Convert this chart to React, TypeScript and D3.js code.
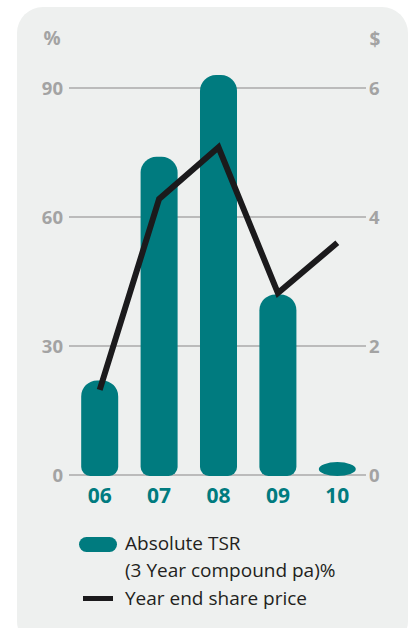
import React from "react";
import * as d3 from "d3";

const categories = ["06", "07", "08", "09", "10"];
const tsrValues = [22, 74, 93, 42, 3];
const sharePrice = [1.32, 4.28, 5.08, 2.82, 3.6];
const leftTicks = [0, 30, 60, 90];
const rightTicks = [0, 2, 4, 6];

const TEAL = "#007b7f";
const GRAY = "#a3a3a3";
const FONT = "'Open Sans', 'Noto Sans', sans-serif";

function barPath(x: number, y: number, w: number, h: number) {
  if (h < 30) {
    const rx = w / 2, ry = h / 2;
    return `M${x},${y + ry} A${rx},${ry} 0 0 1 ${x + w},${y + ry} A${rx},${ry} 0 0 1 ${x},${y + ry} Z`;
  }
  const rt = 16, rb = 9;
  return [
    `M${x},${y + rt}`,
    `A${rt},${rt} 0 0 1 ${x + rt},${y}`,
    `L${x + w - rt},${y}`,
    `A${rt},${rt} 0 0 1 ${x + w},${y + rt}`,
    `L${x + w},${y + h - rb}`,
    `A${rb},${rb} 0 0 1 ${x + w - rb},${y + h}`,
    `L${x + rb},${y + h}`,
    `A${rb},${rb} 0 0 1 ${x},${y + h - rb}`,
    "Z",
  ].join(" ");
}

export default function App() {
  const W = 409, H = 628;
  const x = d3.scaleBand<string>().domain(categories).range([70, 367]).paddingInner(0.377).paddingOuter(0.1885);
  const yL = d3.scaleLinear().domain([0, 90]).range([475, 88]);
  const yR = d3.scaleLinear().domain([0, 6]).range([475, 88]);
  const line = d3
    .line<number>()
    .x((_, i) => (x(categories[i]) as number) + x.bandwidth() / 2)
    .y((d) => yR(d));

  return (
    <svg width={W} height={H} style={{ position: "absolute", left: 0, top: 0 }} fontFamily={FONT}>
      <rect x={17} y={7} width={391} height={640} rx={26} fill="#eef0ef" />
      <text x={52} y={45} fontSize={19} fontWeight={700} fill={GRAY} textAnchor="middle">%</text>
      <text x={375} y={46} fontSize={19} fontWeight={700} fill={GRAY} textAnchor="middle">$</text>
      {leftTicks.map((t) => (
        <g key={"l" + t}>
          <line x1={69} x2={366} y1={yL(t)} y2={yL(t)} stroke="#aaaaaa" strokeWidth={1.5} />
          <text x={63} y={yL(t) + 6.5} fontSize={18.5} fontWeight={700} fill={GRAY} textAnchor="end">{t}</text>
        </g>
      ))}
      {rightTicks.map((t) => (
        <text key={"r" + t} x={369} y={yR(t) + 6.5} fontSize={18.5} fontWeight={700} fill={GRAY} textAnchor="start">{t}</text>
      ))}
      {categories.map((c, i) => {
        const bx = x(c) as number;
        const top = yL(tsrValues[i]);
        const h = yL(0) + 1 - top;
        return <path key={c} d={barPath(bx, top, x.bandwidth(), h)} fill={TEAL} />;
      })}
      <path d={line(sharePrice) || ""} fill="none" stroke="#1b1a1c" strokeWidth={6} strokeLinejoin="miter" />
      {categories.map((c) => (
        <text key={"c" + c} x={(x(c) as number) + x.bandwidth() / 2} y={503} fontSize={21} fontWeight={700} fill={TEAL} textAnchor="middle">{c}</text>
      ))}
      <rect x={79} y={537} width={38} height={15} rx={7.5} fill={TEAL} />
      <line x1={83} x2={113} y1={598.5} y2={598.5} stroke="#1b1a1c" strokeWidth={5} />
      <text x={125} y={550} fontSize={19} fill="#231f20">Absolute TSR</text>
      <text x={125} y={577} fontSize={19} fill="#231f20">(3 Year compound pa)%</text>
      <text x={125} y={605} fontSize={19} fill="#231f20">Year end share price</text>
    </svg>
  );
}
